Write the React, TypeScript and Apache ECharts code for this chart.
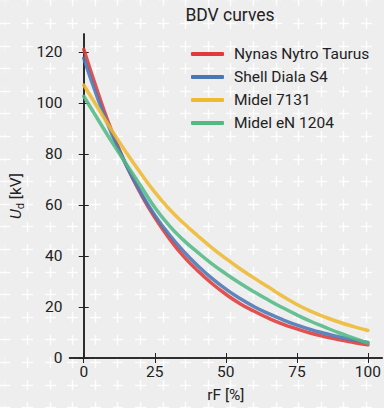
import React, { useEffect, useRef } from "react";
import * as echarts from "echarts";

const rF = [0, 5, 10, 15, 20, 25, 30, 35, 40, 45, 50, 55, 60, 65, 70, 75, 80, 85, 90, 95, 100];
const nynas = [121, 104, 88.5, 75.5, 64.5, 55, 47, 40, 34.3, 29.3, 25, 21.3, 18.3, 15.6, 13.3, 11.4, 9.7, 8.3, 7.1, 6.1, 5.2];
const shell = [117.5, 101.5, 87.5, 75.5, 65, 56, 48.5, 42, 36.3, 31.3, 27, 23.3, 20.1, 17.4, 15, 12.9, 11.1, 9.6, 8.2, 7.1, 6.1];
const midel7131 = [107, 98, 89, 80.5, 72.5, 65, 58.5, 53, 48, 43.3, 39, 35, 31.3, 27.8, 24.2, 21, 18.3, 16, 14, 12.3, 10.8];
const midelEN = [102.6, 93.5, 84.5, 76, 67.5, 59, 52, 46.3, 41.5, 37, 33, 29.3, 25.9, 22.7, 19.7, 16.9, 14.3, 12, 9.8, 7.8, 5.8];

const seriesNames = ["Nynas Nytro Taurus", "Shell Diala S4", "Midel 7131", "Midel eN 1204"];
const seriesData = [nynas, shell, midel7131, midelEN];
const colors = ["#e03a3a", "#4a78b5", "#efb930", "#52b985"];
const xTicks = [0, 25, 50, 75, 100];
const yTicks = [0, 20, 40, 60, 80, 100, 120];

const FONT = "Roboto, 'Noto Sans', sans-serif";
const INK = "#222222";
const FS = 15.5;

const tile = 22.6;
const plusSvg =
  `<svg xmlns='http://www.w3.org/2000/svg' width='${tile}' height='${tile}'>` +
  `<line x1='5.8' y1='11.3' x2='16.8' y2='11.3' stroke='white' stroke-width='1.4' stroke-opacity='0.9'/>` +
  `<line x1='11.3' y1='5.8' x2='11.3' y2='16.8' stroke='white' stroke-width='1.4' stroke-opacity='0.9'/>` +
  `</svg>`;
const bgImage = `url("data:image/svg+xml;utf8,${encodeURIComponent(plusSvg)}")`;

export default function App() {
  const ref = useRef<HTMLDivElement>(null);
  useEffect(() => {
    if (!ref.current) return;
    const chart = echarts.init(ref.current, undefined, { renderer: "svg" });
    const axisLine = { show: true, lineStyle: { color: INK, width: 1.5 } };
    const axisTickX = { show: true, inside: true, length: 5, lineStyle: { color: INK, width: 1 }, customValues: xTicks };
    const axisTickY = { show: true, inside: true, length: 5, lineStyle: { color: INK, width: 1 }, customValues: yTicks };
    chart.setOption({
      animation: false,
      backgroundColor: "transparent",
      textStyle: { fontFamily: FONT },
      title: {
        text: "BDV curves",
        left: 230,
        top: 6,
        padding: 0,
        textAlign: "center",
        textStyle: { fontFamily: FONT, fontSize: 17.5, fontWeight: "normal", color: INK },
      },
      legend: {
        orient: "vertical",
        left: 191,
        top: 45,
        padding: 0,
        itemWidth: 33,
        itemHeight: 4,
        itemGap: 5,
        icon: "roundRect",
        data: seriesNames,
        textStyle: { fontFamily: FONT, fontSize: FS, color: INK, lineHeight: 18, padding: [0, 0, 0, 5] },
      },
      grid: { left: 69.5, right: 1, top: 34, bottom: 48, containLabel: false },
      xAxis: [
        {
          type: "value",
          min: -5,
          max: 105,
          name: "rF [%]",
          nameLocation: "middle",
          nameGap: 29,
          nameTextStyle: { fontFamily: FONT, fontSize: FS, color: INK },
          axisLine,
          axisTick: axisTickX,
          axisLabel: { fontFamily: FONT, fontSize: FS, color: INK, margin: 6, customValues: xTicks },
          splitLine: { show: false },
        },
        {
          type: "value",
          position: "top",
          min: -5,
          max: 105,
          axisLine,
          axisTick: axisTickX,
          axisLabel: { show: false },
          splitLine: { show: false },
        },
      ],
      yAxis: [
        {
          type: "value",
          min: 0,
          max: 127,
          name: "{i|U}{s|d} [kV]",
          nameLocation: "middle",
          nameGap: 40,
          nameRotate: 90,
          nameTextStyle: {
            fontFamily: FONT,
            fontSize: FS,
            color: INK,
            rich: {
              i: { fontFamily: FONT, fontSize: FS, fontStyle: "italic", color: INK },
              s: { fontFamily: FONT, fontSize: 11, color: INK, padding: [8, 0, 0, 0] },
            },
          },
          axisLine,
          axisTick: axisTickY,
          axisLabel: { fontFamily: FONT, fontSize: FS, color: INK, margin: 7, customValues: yTicks },
          splitLine: { show: false },
        },
        {
          type: "value",
          position: "right",
          min: 0,
          max: 127,
          axisLine,
          axisTick: axisTickY,
          axisLabel: { show: false },
          splitLine: { show: false },
        },
      ],
      series: seriesNames.map((name, i) => ({
        name,
        type: "line",
        smooth: true,
        symbol: "none",
        data: rF.map((x, j) => [x, seriesData[i][j]]),
        lineStyle: { color: colors[i], width: 3.5, opacity: 0.88, cap: "round" },
        itemStyle: { color: colors[i] },
      })),
    });
    return () => chart.dispose();
  }, []);
  return (
    <div
      style={{
        position: "fixed",
        left: 0,
        top: 0,
        width: 384,
        height: 408,
        backgroundColor: "#eeeeee",
        backgroundImage: bgImage,
        backgroundSize: `${tile}px ${tile}px`,
        backgroundPosition: "-6.3px -10.3px",
      }}
    >
      <div ref={ref} style={{ width: 384, height: 408 }} />
    </div>
  );
}
